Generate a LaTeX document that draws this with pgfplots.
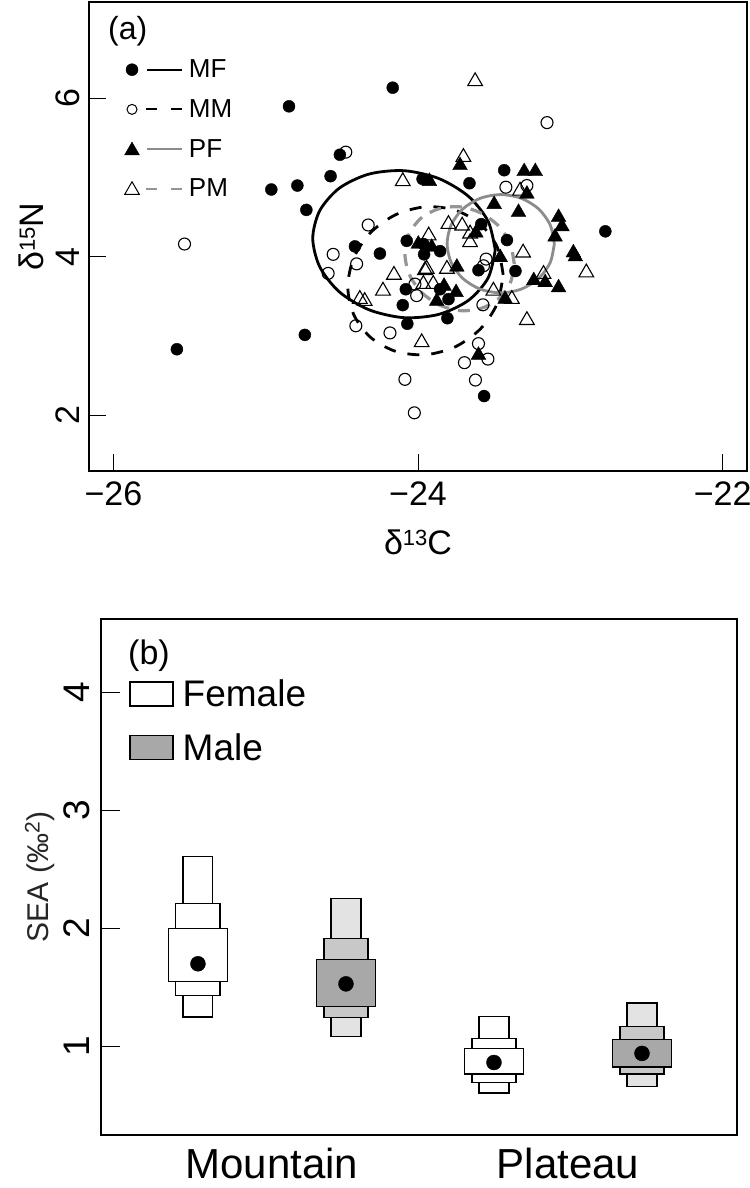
\documentclass[border=0pt]{standalone}
\usepackage{fontspec}
\setmainfont{Liberation Sans}
\usepackage{pgfplots}
\pgfplotsset{compat=1.18}
\definecolor{pfgray}{HTML}{8C8C8C}
\definecolor{pmgray}{HTML}{959595}
\definecolor{mgIn}{HTML}{A8A8A8}
\definecolor{mgMid}{HTML}{C8C8C8}
\definecolor{mgOut}{HTML}{E3E3E3}
\newcommand{\fs}[1]{\fontsize{#1}{#1}\selectfont}
\begin{document}
\begin{tikzpicture}
\useasboundingbox (0,0) rectangle (750bp,1188bp);
% ---------------- panel (a) ----------------
\begin{axis}[
  at={(89bp,1186bp)}, anchor=north west,
  scale only axis, width=658bp, height=469bp,
  xmin=-26.16, xmax=-21.84, ymin=1.30, ymax=7.21,
  axis line style={line width=1.2bp},
  tick pos=left, tick align=inside, major tick length=17bp,
  tick style={line width=1bp, black},
  xtick={-26,-24,-22}, xticklabels={−26,−24,−22},
  ytick={2,4,6}, yticklabels={2,4,6},
  ticklabel style={font=\fs{34bp}, inner sep=0pt},
  xticklabel shift=11bp,
  yticklabel style={rotate=90, anchor=south},
  yticklabel shift=9bp,
  every axis x label/.style={at={(axis description cs:0.5,-0.177)}, anchor=base},
  every axis y label/.style={at={(axis description cs:-0.0684,0.5)}, rotate=90, anchor=base},
  xlabel={\fs{34bp}δ\raisebox{9bp}{\fs{22bp}13}C},
  ylabel={\fs{34bp}δ\raisebox{9bp}{\fs{22bp}15}N},
  legend style={draw=none, fill=none, at={(0.0517,0.8763)}, anchor=north west,
    inner sep=0pt, outer sep=0pt, row sep=20.3bp, column sep=6bp,
    font=\fs{26bp}, nodes={inner sep=0pt}},
  legend cell align=left,
]
% MF
\addplot[only marks, mark=*, mark size=6bp, black, fill=black,
  legend image code/.code={
    \path[draw=none, fill=none] (-9bp,-9bp) rectangle (50bp,9bp);
    \draw[black, fill=black, mark=*, mark size=6bp] plot coordinates {(0bp,0bp)};
    \draw[black, fill=none, line width=1.8bp] (15bp,0bp) -- (50bp,0bp);}]
coordinates {(-24.166,6.13) (-24.847,5.895) (-24.513,5.285) (-24.574,5.015) (-24.792,4.897) (-24.963,4.847) (-24.733,4.59) (-23.97,4.98) (-23.662,4.926) (-23.434,5.09) (-24.414,4.13) (-24.25,4.04) (-24.074,4.20) (-23.585,4.41) (-23.416,4.21) (-22.77,4.32) (-25.583,2.834) (-24.743,3.015) (-24.07,3.155) (-23.807,3.225) (-23.566,2.244) (-24.08,3.59) (-24.10,3.39) (-23.855,3.59) (-23.80,3.465) (-23.603,3.83) (-23.36,3.82) (-23.965,4.16) (-23.96,4.03) (-23.855,4.07)};
\addlegendentry{MF}
% MM
\addplot[only marks, mark=o, mark size=6bp, black, line width=1.1bp,
  legend image code/.code={
    \path[draw=none, fill=none] (-9bp,-9bp) rectangle (50bp,9bp);
    \draw[black, line width=1bp, mark=o, mark size=5bp] plot coordinates {(0bp,0bp)};
    \draw[black, fill=none, line width=1.8bp, dash pattern=on 11bp off 14bp] (14bp,0bp) -- (50bp,0bp);}]
coordinates {(-24.474,5.318) (-23.423,4.876) (-23.285,4.897) (-23.153,5.69) (-24.327,4.40) (-24.557,4.03) (-24.59,3.79) (-24.403,3.91) (-24.408,3.13) (-24.184,3.04) (-24.086,2.455) (-24.024,2.033) (-23.695,2.665) (-23.603,2.905) (-23.541,2.71) (-23.623,2.446) (-25.533,4.16) (-24.02,3.655) (-24.009,3.51) (-23.574,3.394) (-23.553,3.97) (-23.57,3.886)};
\addlegendentry{MM}
% PF
\addplot[only marks, mark=triangle*, mark size=8.5bp, black, fill=black,
  legend image code/.code={
    \path[draw=none, fill=none] (-9bp,-9bp) rectangle (50bp,9bp);
    \draw[black, fill=black, mark=triangle*, mark size=8.5bp] plot coordinates {(0bp,-1.5bp)};
    \draw[pfgray, fill=none, line width=1.8bp] (15bp,0bp) -- (50bp,0bp);}]
coordinates {(-23.724,5.15) (-23.925,4.95) (-23.303,5.074) (-23.23,5.074) (-23.285,4.79) (-23.5,4.66) (-23.34,4.56) (-23.077,4.497) (-23.055,4.38) (-23.10,4.25) (-22.98,4.05) (-22.967,4.0) (-23.24,3.70) (-23.165,3.675) (-23.077,3.61) (-23.603,2.76) (-23.877,3.44) (-23.829,3.63) (-23.745,3.87) (-23.428,3.466) (-23.46,3.99) (-23.998,4.16) (-23.91,4.12) (-23.62,4.30) (-23.75,3.55)};
\addlegendentry{PF}
% PM
\addplot[only marks, mark=triangle, mark size=8.5bp, black, line width=1.1bp,
  legend image code/.code={
    \path[draw=none, fill=none] (-9bp,-9bp) rectangle (50bp,9bp);
    \draw[black, line width=1bp, mark=triangle, mark size=8.5bp] plot coordinates {(0bp,-1.5bp)};
    \draw[pmgray, fill=none, line width=1.8bp, dash pattern=on 11bp off 14bp] (14bp,0bp) -- (50bp,0bp);}]
coordinates {(-24.10,4.95) (-23.625,6.21) (-23.702,5.255) (-23.33,4.83) (-23.80,4.41) (-23.71,4.39) (-23.658,4.29) (-23.658,4.18) (-23.93,4.265) (-23.31,4.05) (-22.895,3.80) (-23.176,3.78) (-23.285,3.20) (-23.976,2.92) (-24.382,3.466) (-24.35,3.44) (-24.23,3.57) (-24.158,3.77) (-23.954,3.83) (-23.965,3.655) (-23.90,3.655) (-23.81,3.845) (-23.384,3.466) (-23.505,3.57) (-23.943,3.845)};
\addlegendentry{PM}
% ellipses
\addplot[forget plot, smooth, black, line width=2.8bp, mark=none]
coordinates {(-23.493,4.084) (-23.539,4.444) (-23.668,4.760) (-23.863,4.985) (-24.092,5.084) (-24.321,5.042) (-24.516,4.865) (-24.645,4.581) (-24.691,4.232) (-24.645,3.872) (-24.516,3.556) (-24.321,3.331) (-24.092,3.232) (-23.863,3.274) (-23.668,3.451) (-23.539,3.735) (-23.493,4.084)};
\addplot[forget plot, smooth, black, line width=2.8bp, dash pattern=on 12bp off 12bp, mark=none]
coordinates {(-23.441,3.772) (-23.480,4.123) (-23.590,4.409) (-23.756,4.587) (-23.951,4.629) (-24.146,4.530) (-24.312,4.303) (-24.422,3.985) (-24.461,3.622) (-24.422,3.271) (-24.312,2.985) (-24.146,2.807) (-23.951,2.765) (-23.756,2.864) (-23.590,3.091) (-23.480,3.409) (-23.441,3.772)};
\addplot[forget plot, smooth, pfgray, line width=2.8bp, mark=none]
coordinates {(-23.105,4.164) (-23.132,4.401) (-23.208,4.602) (-23.322,4.736) (-23.457,4.783) (-23.592,4.736) (-23.706,4.602) (-23.782,4.401) (-23.809,4.164) (-23.782,3.927) (-23.706,3.726) (-23.592,3.592) (-23.457,3.545) (-23.322,3.592) (-23.208,3.726) (-23.132,3.927) (-23.105,4.164)};
\addplot[forget plot, smooth, pmgray, line width=3.2bp, dash pattern=on 12bp off 9bp, mark=none]
coordinates {(-23.368,3.909) (-23.395,4.165) (-23.473,4.391) (-23.590,4.554) (-23.727,4.629) (-23.864,4.604) (-23.981,4.484) (-24.059,4.286) (-24.086,4.041) (-24.059,3.786) (-23.981,3.559) (-23.864,3.396) (-23.727,3.321) (-23.590,3.346) (-23.473,3.466) (-23.395,3.664) (-23.368,3.909)};
\end{axis}
\node[anchor=base west, inner sep=0pt, font=\fs{32bp}] at (108bp,1148bp) {(a)};
% ---------------- panel (b) ----------------
\begin{axis}[
  at={(101bp,569bp)}, anchor=north west,
  scale only axis, width=636bp, height=516bp,
  xmin=0.345, xmax=4.642, ymin=0.25, ymax=4.62,
  axis line style={line width=1.2bp},
  tick pos=left, tick align=inside, major tick length=19bp,
  ytick style={line width=1bp, black},
  xtick style={draw=none},
  xtick={1.5,3.5}, xticklabels={Mountain,Plateau},
  ytick={1,2,3,4}, yticklabels={1,2,3,4},
  xticklabel style={font=\fs{42bp}, inner sep=0pt},
  yticklabel style={font=\fs{37bp}, inner sep=0pt, rotate=90, anchor=south},
  xticklabel shift=13bp,
  yticklabel shift=11bp,
  every axis y label/.style={at={(axis description cs:-0.0959,0.5)}, rotate=90, anchor=center},
  ylabel={\fs{30bp}\color{black!85}SEA (‰\textsuperscript{2})},
  legend style={draw=none, fill=none, at={(0.0444,0.8823)}, anchor=north west,
    inner sep=0pt, outer sep=0pt, row sep=25.5bp, column sep=9bp,
    font=\fs{37bp}, nodes={inner sep=0pt}},
  legend cell align=left,
]
% Mountain female
\addplot[forget plot, fill=white, draw=black, line width=1.5bp] coordinates {(0.90,1.25) (1.10,1.25) (1.10,2.61) (0.90,2.61)} -- cycle;
\addplot[forget plot, fill=white, draw=black, line width=1.5bp] coordinates {(0.85,1.43) (1.15,1.43) (1.15,2.21) (0.85,2.21)} -- cycle;
\addplot[fill=white, draw=black, line width=1.5bp,
  legend image code/.code={\draw[fill=white, draw=black, line width=1.5bp] (0bp,-12bp) rectangle (43bp,12bp);}]
  coordinates {(0.80,1.55) (1.20,1.55) (1.20,2.00) (0.80,2.00)} -- cycle;
\addlegendentry{Female}
% Mountain male
\addplot[forget plot, fill=mgOut, draw=black, line width=1.5bp] coordinates {(1.90,1.085) (2.10,1.085) (2.10,2.254) (1.90,2.254)} -- cycle;
\addplot[forget plot, fill=mgMid, draw=black, line width=1.5bp] coordinates {(1.85,1.243) (2.15,1.243) (2.15,1.915) (1.85,1.915)} -- cycle;
\addplot[fill=mgIn, draw=black, line width=1.5bp,
  legend image code/.code={\draw[fill=mgIn, draw=black, line width=1.5bp] (0bp,-12bp) rectangle (43bp,12bp);}]
  coordinates {(1.80,1.34) (2.20,1.34) (2.20,1.735) (1.80,1.735)} -- cycle;
\addlegendentry{Male}
% Plateau female
\addplot[forget plot, fill=white, draw=black, line width=1.5bp] coordinates {(2.90,0.604) (3.10,0.604) (3.10,1.254) (2.90,1.254)} -- cycle;
\addplot[forget plot, fill=white, draw=black, line width=1.5bp] coordinates {(2.85,0.695) (3.15,0.695) (3.15,1.068) (2.85,1.068)} -- cycle;
\addplot[forget plot, fill=white, draw=black, line width=1.5bp] coordinates {(2.80,0.765) (3.20,0.765) (3.20,0.983) (2.80,0.983)} -- cycle;
% Plateau male
\addplot[forget plot, fill=mgOut, draw=black, line width=1.5bp] coordinates {(3.90,0.661) (4.10,0.661) (4.10,1.367) (3.90,1.367)} -- cycle;
\addplot[forget plot, fill=mgMid, draw=black, line width=1.5bp] coordinates {(3.85,0.765) (4.15,0.765) (4.15,1.167) (3.85,1.167)} -- cycle;
\addplot[forget plot, fill=mgIn, draw=black, line width=1.5bp] coordinates {(3.80,0.825) (4.20,0.825) (4.20,1.059) (3.80,1.059)} -- cycle;
% modes
\addplot[forget plot, only marks, mark=*, mark size=7.5bp, black] coordinates {(1,1.70) (2,1.53) (3,0.864) (4,0.941)};
\end{axis}
\node[anchor=base west, inner sep=0pt, font=\fs{34bp}] at (128bp,523bp) {(b)};
\end{tikzpicture}
\end{document}
